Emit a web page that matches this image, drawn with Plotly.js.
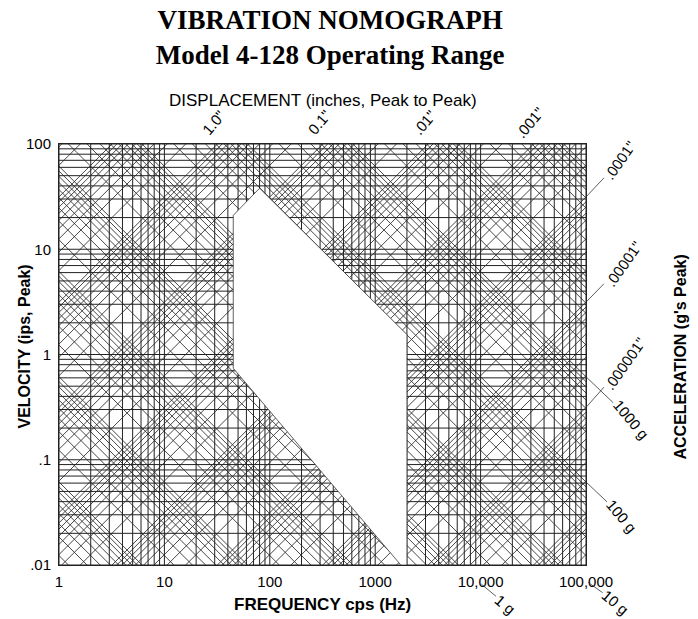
<!DOCTYPE html>
<html><head><meta charset="utf-8">
<script src="https://cdn.plot.ly/plotly-3.0.1.min.js"></script>
<style>html,body{margin:0;padding:0;background:#fff}</style>
</head><body><div id="chart" style="width:698px;height:619px"></div>
<script>
// ---- axis ticks ----
const freqTickVals = [1, 10, 100, 1000, 10000, 100000];
const freqTickText = ['1', '10', '100', '1000', '10,000', '100,000'];
const velTickVals = [0.01, 0.1, 1, 10, 100];
const velTickText = ['.01', '.1', '1', '10', '100'];

// ---- grid families (k x decade) ----
const gridMultipliers = [1, 2, 3, 4, 5, 6, 7, 8, 9];
const freqDecades = [1, 10, 100, 1000, 10000];            // Hz
const velDecades = [0.01, 0.1, 1, 10];                    // ips peak
const dispDecades = [1e-8, 1e-7, 1e-6, 1e-5, 1e-4, 1e-3, 1e-2, 0.1, 1, 10]; // in pk-pk
const accelDecades = [1e-4, 1e-3, 1e-2, 0.1, 1, 10, 100, 1000, 1e4, 1e5];   // g

// ---- scale labels ----
const dispTopValues = [1.0, 0.1, 0.01, 0.001];
const dispTopText = ['1.0"', '0.1"', '.01"', '.001"'];
const dispRightValues = [1e-4, 1e-5, 1e-6];
const dispRightText = ['.0001"', '.00001"', '.000001"'];
const accelRightValues = [1000, 100];
const accelRightText = ['1000 g', '100 g'];
const accelBottomValues = [1, 10];
const accelBottomText = ['1 g', '10 g'];

// ---- Model 4-128 operating range (blank region) ----
const regionFreq = [45, 45, 80, 2000, 2000, 1750, 45];
const regionVel  = [0.74, 21, 38, 1.55, 0.01, 0.01, 0.74];

const G = 386.09; // in/s^2 per g
const fMin = 1, fMax = 1e5, vMin = 0.01, vMax = 100;

// horizontal (velocity) lines
const hx = [], hy = [];
velDecades.forEach(d => gridMultipliers.forEach(k => { hx.push(fMin, fMax, null); hy.push(k * d, k * d, null); }));
hx.push(fMin, fMax); hy.push(vMax, vMax);
// vertical (frequency) lines
const vx = [], vy = [];
freqDecades.forEach(d => gridMultipliers.forEach(k => { vx.push(k * d, k * d, null); vy.push(vMin, vMax, null); }));
vx.push(fMax, fMax); vy.push(vMin, vMax);
// displacement lines: v = pi f D
const dx = [], dy = [];
dispDecades.forEach(d => gridMultipliers.forEach(k => {
  const D = k * d; dx.push(0.01, 1e7, null); dy.push(Math.PI * 0.01 * D, Math.PI * 1e7 * D, null);
}));
// acceleration lines: v = a G / (2 pi f)
const ax_ = [], ay_ = [];
accelDecades.forEach(d => gridMultipliers.forEach(k => {
  const A = k * d * G; ax_.push(0.01, 1e7, null); ay_.push(A / (2 * Math.PI * 0.01), A / (2 * Math.PI * 1e7), null);
}));

const gridCol = '#222', diagCol = '#333';
const traces = [
  {x: dx, y: dy, mode: 'lines', line: {color: diagCol, width: 0.9}, hoverinfo: 'skip', showlegend: false},
  {x: ax_, y: ay_, mode: 'lines', line: {color: diagCol, width: 0.9}, hoverinfo: 'skip', showlegend: false},
  {x: hx, y: hy, mode: 'lines', line: {color: gridCol, width: 1}, hoverinfo: 'skip', showlegend: false},
  {x: vx, y: vy, mode: 'lines', line: {color: gridCol, width: 1}, hoverinfo: 'skip', showlegend: false},
  {x: regionFreq, y: regionVel, mode: 'lines', fill: 'toself', fillcolor: '#ffffff',
   line: {color: '#3a3a3a', width: 0.8}, hoverinfo: 'skip', showlegend: false}
];

const lg = Math.log10;
const sans = 'Liberation Sans, Arial, sans-serif';
const labFont = {family: sans, size: 15, color: '#000'};
const annotations = [];
dispTopValues.forEach((D, i) => annotations.push({
  x: lg(vMax / (Math.PI * D)), y: lg(vMax), xref: 'x', yref: 'y', text: dispTopText[i],
  showarrow: false, textangle: -50, xanchor: 'center', yanchor: 'middle', xshift: -4, yshift: 22, font: labFont
}));
const rightDispOff = [[34, -36], [37, -38], [39, -44]];
dispRightValues.forEach((D, i) => annotations.push({
  x: lg(fMax), y: lg(Math.PI * fMax * D), xref: 'x', yref: 'y', text: dispRightText[i],
  showarrow: true, arrowhead: 0, arrowwidth: 0.8, arrowcolor: '#333', standoff: 1,
  ax: rightDispOff[i][0], ay: rightDispOff[i][1], textangle: -55, font: labFont
}));
const rightAccOff = [[45, 43], [36, 34]];
accelRightValues.forEach((a, i) => annotations.push({
  x: lg(fMax), y: lg(a * G / (2 * Math.PI * fMax)), xref: 'x', yref: 'y', text: accelRightText[i],
  showarrow: true, arrowhead: 0, arrowwidth: 0.8, arrowcolor: '#333', standoff: 1,
  ax: rightAccOff[i][0], ay: rightAccOff[i][1], textangle: 50, font: labFont
}));
const bottomAccOff = [[47, 39], [52, 37]];
accelBottomValues.forEach((a, i) => annotations.push({
  x: lg(a * G / (2 * Math.PI * vMin)), y: lg(vMin), xref: 'x', yref: 'y', text: accelBottomText[i],
  showarrow: true, arrowhead: 0, arrowwidth: 0.8, arrowcolor: '#333', standoff: 30,
  ax: bottomAccOff[i][0], ay: bottomAccOff[i][1], textangle: 40, font: labFont
}));
// axis titles
annotations.push({xref: 'paper', yref: 'paper', x: 0.5, y: 1, xanchor: 'center', yanchor: 'middle', yshift: 44, showarrow: false,
  text: 'DISPLACEMENT (inches, Peak to Peak)', font: {family: sans, size: 17, color: '#000'}});
annotations.push({xref: 'paper', yref: 'paper', x: 0.5, y: 0, xanchor: 'center', yanchor: 'middle', yshift: -39, showarrow: false,
  text: '<b>FREQUENCY cps (Hz)</b>', font: {family: sans, size: 17, color: '#000'}});
annotations.push({xref: 'paper', yref: 'paper', x: 0, y: 0.5, xanchor: 'center', yanchor: 'middle', xshift: -35, yshift: 8, showarrow: false, textangle: -90,
  text: '<b>VELOCITY (ips, Peak)</b>', font: {family: sans, size: 16, color: '#000'}});
annotations.push({xref: 'paper', yref: 'paper', x: 1, y: 0.5, xanchor: 'center', yanchor: 'middle', xshift: 94, yshift: -3, showarrow: false, textangle: -90,
  text: "<b>ACCELERATION (g's Peak)</b>", font: {family: sans, size: 16, color: '#000'}});

const layout = {
  width: 698, height: 619,
  margin: {l: 59, r: 112, t: 144, b: 54},
  paper_bgcolor: '#fff', plot_bgcolor: '#fff',
  title: {text: 'VIBRATION NOMOGRAPH<br>Model 4-128 Operating Range', x: 0.473, xanchor: 'center',
    y: 0.953, yref: 'container', yanchor: 'top',
    font: {family: 'Liberation Serif, Times New Roman, serif', size: 27, weight: 'bold', color: '#000'}},
  xaxis: {type: 'log', range: [0, 5], tickvals: freqTickVals, ticktext: freqTickText,
    showgrid: false, zeroline: false, showline: true, mirror: true, linecolor: '#222', linewidth: 1,
    ticks: '', ticklabelstandoff: 3, tickfont: labFont},
  yaxis: {type: 'log', range: [-2, 2], tickvals: velTickVals, ticktext: velTickText,
    showgrid: false, zeroline: false, showline: true, mirror: true, linecolor: '#222', linewidth: 1,
    ticks: '', ticklabelstandoff: 4, tickfont: labFont},
  annotations: annotations,
  showlegend: false
};
Plotly.newPlot('chart', traces, layout, {displayModeBar: false, staticPlot: true});
</script></body></html>
